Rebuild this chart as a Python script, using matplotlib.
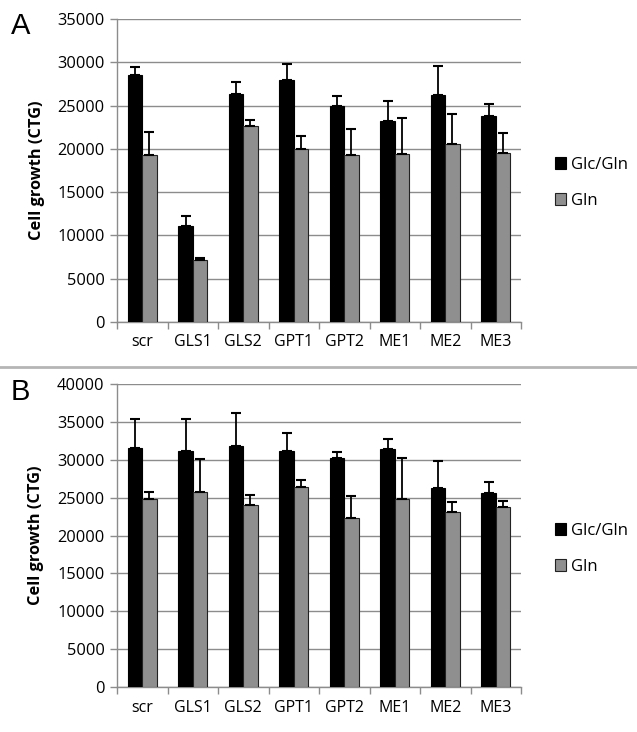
import matplotlib
matplotlib.use("Agg")
import matplotlib.pyplot as plt
import numpy as np

categories = ["scr", "GLS1", "GLS2", "GPT1", "GPT2", "ME1", "ME2", "ME3"]
series_names = ["Glc/Gln", "Gln"]

a_glcgln = [28550, 11120, 26340, 27950, 24950, 23250, 26250, 23760]
a_glcgln_err = [900, 1100, 1400, 1900, 1200, 2270, 3300, 1420]
a_gln = [19290, 7200, 22600, 19950, 19250, 19370, 20560, 19560]
a_gln_err = [2650, 230, 700, 1500, 3000, 4160, 3460, 2240]

b_glcgln = [31550, 31150, 31860, 31200, 30230, 31460, 26320, 25660]
b_glcgln_err = [3870, 4270, 4360, 2380, 790, 1230, 3480, 1410]
b_gln = [24820, 25790, 24030, 26400, 22310, 24860, 23060, 23720]
b_gln_err = [880, 4360, 1280, 880, 2950, 5400, 1360, 790]

a_ticks = [0, 5000, 10000, 15000, 20000, 25000, 30000, 35000]
b_ticks = [0, 5000, 10000, 15000, 20000, 25000, 30000, 35000, 40000]

plt.rcParams['font.family'] = ['Open Sans', 'DejaVu Sans']

W, H = 637, 732
fig = plt.figure(figsize=(W / 100, H / 100), dpi=100)

def ax_rect(x0, y0, x1, y1):
    return [x0 / W, 1 - y1 / H, (x1 - x0) / W, (y1 - y0) / H]

grid_c = "#8c8c8c"

def panel(rect, v1, e1, v2, e2, ticks, letter, letter_y, leg_y):
    ax = fig.add_axes(rect)
    x = np.arange(len(categories))
    w = 0.285
    ax.bar(x - w / 2, v1, w, color="black", edgecolor="black", linewidth=0.8, zorder=3, label=series_names[0])
    ax.bar(x + w / 2, v2, w, color="#8f8f8f", edgecolor="#222222", linewidth=0.8, zorder=3, label=series_names[1])
    ax.errorbar(x - w / 2, v1, yerr=[np.zeros(len(v1)), e1], fmt="none", ecolor="black",
                elinewidth=1.3, capsize=3.5, capthick=1.5, zorder=4)
    ax.errorbar(x + w / 2, v2, yerr=[np.zeros(len(v2)), e2], fmt="none", ecolor="black",
                elinewidth=1.3, capsize=3.5, capthick=1.5, zorder=4)
    ax.set_xlim(-0.5, len(categories) - 0.5)
    ax.set_ylim(ticks[0], ticks[-1])
    ax.set_yticks(ticks)
    ax.set_yticklabels([str(t) for t in ticks], fontsize=11.8)
    ax.set_xticks(x)
    ax.set_xticklabels(categories, fontsize=11.5)
    ax.set_xticks(np.arange(-0.5, len(categories)), minor=True)
    ax.tick_params(axis="x", which="major", length=0, pad=9)
    ax.tick_params(axis="x", which="minor", length=5, color=grid_c, width=1)
    ax.tick_params(axis="y", length=5, color=grid_c, width=1, pad=4)
    ax.yaxis.grid(True, color=grid_c, linewidth=1, zorder=0)
    ax.set_axisbelow(True)
    for s in ["top", "right"]:
        ax.spines[s].set_visible(False)
    for s in ["left", "bottom"]:
        ax.spines[s].set_color(grid_c)
        ax.spines[s].set_linewidth(1)
    ax.set_ylabel("Cell growth (CTG)", fontsize=11.8, fontweight="bold", labelpad=9)
    fig.text(11 / W, 1 - letter_y / H, letter, fontsize=21, family="Liberation Sans",
             va="center", ha="left")
    ax.legend(loc="center left", bbox_to_anchor=((548 - rect[0] * W) / (rect[2] * W), 
              1 - (leg_y - (1 - rect[1] - rect[3]) * H) / (rect[3] * H)),
              frameon=False, fontsize=12, handlelength=0.7, handleheight=0.7,
              handletextpad=0.25, labelspacing=1.2, borderaxespad=0)
    return ax

panel(ax_rect(117, 19, 521, 322), a_glcgln, a_glcgln_err, a_gln, a_gln_err, a_ticks, "A", 26, 183)
panel(ax_rect(117, 384, 521, 687), b_glcgln, b_glcgln_err, b_gln, b_gln_err, b_ticks, "B", 392, 549)

fig.add_artist(plt.Line2D([0, 1], [1 - 366.5 / H, 1 - 366.5 / H], transform=fig.transFigure,
                          color="#b5b5b5", linewidth=2))

fig.savefig("out.png", dpi=100)
